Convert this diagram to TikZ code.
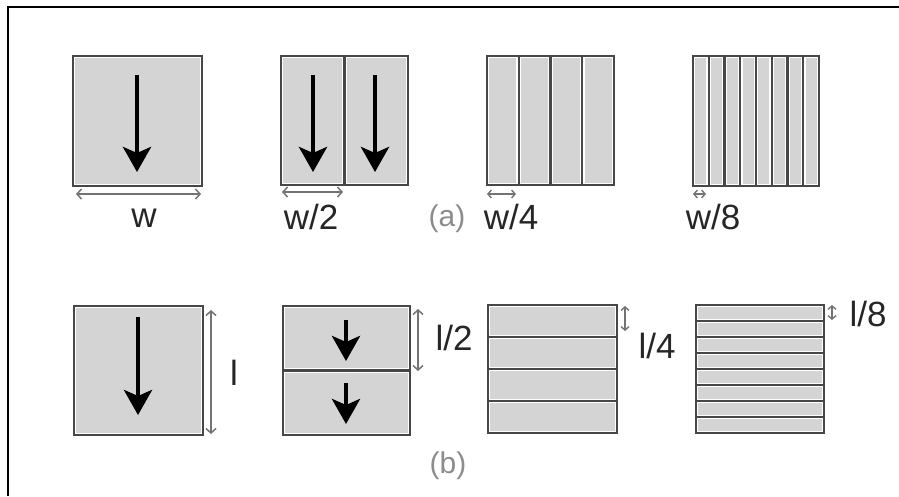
\documentclass[tikz,border=0pt]{standalone}
\usepackage{fontspec}
\setmainfont{Liberation Sans}
\usetikzlibrary{arrows.meta}

\tikzset{
  cellline/.style={draw=black!72, line width=2.2pt},
  cellfill/.style={fill=black!17},
  bigarrow/.style={line width=4.5pt, -{Stealth[length=25pt,width=28pt,inset=6pt]}},
  dimarrow/.style={draw=black!55, line width=1.5pt,
    {Straight Barb[length=4.5pt,width=10pt]}-{Straight Barb[length=4.5pt,width=10pt]}},
  smalldim/.style={draw=black!55, line width=1.4pt,
    {Straight Barb[length=3.5pt,width=8pt]}-{Straight Barb[length=3.5pt,width=8pt]}},
  lbl/.style={font=\fontsize{35}{38}\selectfont, text=black!85, inner sep=0pt},
  tag/.style={font=\fontsize{30}{33}\selectfont, text=black!45, inner sep=0pt},
}

% x y width height count
\newcommand{\vstrips}[5]{%
  \foreach \i in {1,...,#5}{
    \pgfmathsetmacro{\xa}{#1+(\i-1)*#3/#5}
    \pgfmathsetmacro{\xb}{#1+\i*#3/#5}
    \fill[white] (\xa,#2) rectangle (\xb,#2+#4);
    \fill[cellfill] (\xa+2.4,#2+2.4) rectangle (\xb-2.4,#2+#4-2.4);
    \draw[cellline] (\xa,#2) rectangle (\xb,#2+#4);
  }}
\newcommand{\hstrips}[5]{%
  \foreach \i in {1,...,#5}{
    \pgfmathsetmacro{\ya}{#2+(\i-1)*#4/#5}
    \pgfmathsetmacro{\yb}{#2+\i*#4/#5}
    \fill[white] (#1,\ya) rectangle (#1+#3,\yb);
    \fill[cellfill] (#1+2.4,\ya+2.4) rectangle (#1+#3-2.4,\yb-2.4);
    \draw[cellline] (#1,\ya) rectangle (#1+#3,\yb);
  }}

\begin{document}
\begin{tikzpicture}[x=1pt,y=-1pt]
\useasboundingbox (0,0) rectangle (899,496);
\draw[line width=2pt] (8,496) -- (8,7) -- (899,7);

% (a) width split
\vstrips{73}{56}{129}{130}{1}
\vstrips{281}{56}{127}{129}{2}
\vstrips{487}{56}{127}{129}{4}
\vstrips{693}{56}{126}{130}{8}

\coordinate (a1t) at (137,75);   \coordinate (a1b) at (137,172);
\coordinate (a2t) at (313,75);   \coordinate (a2b) at (313,172);
\coordinate (a3t) at (375,75);   \coordinate (a3b) at (375,172);
\draw[bigarrow] (a1t) -- (a1b);
\draw[bigarrow] (a2t) -- (a2b);
\draw[bigarrow] (a3t) -- (a3b);

\coordinate (w1l) at (76,194);  \coordinate (w1r) at (201,194);
\coordinate (w2l) at (282,192); \coordinate (w2r) at (343,192);
\coordinate (w4l) at (487,194); \coordinate (w4r) at (516,194);
\coordinate (w8l) at (693,194); \coordinate (w8r) at (706,194);
\draw[dimarrow] (w1l) -- (w1r);
\draw[dimarrow] (w2l) -- (w2r);
\draw[smalldim] (w4l) -- (w4r);
\draw[smalldim] (w8l) -- (w8r);

\node[lbl] (w) at (144,218) {w};
\node[lbl] (w2) at (311,217) {w/2};
\node[lbl] (w4) at (511,217) {w/4};
\node[lbl] (w8) at (713,217) {w/8};
\node[tag] (a) at (447,219) {(a)};

% (b) length split
\hstrips{74}{306}{129}{129}{1}
\hstrips{283}{306}{127}{129}{2}
\hstrips{488}{305}{129}{128}{4}
\hstrips{696}{305}{128}{128}{8}

\coordinate (b1t) at (138,317);  \coordinate (b1b) at (138,415);
\coordinate (b2t) at (346,320);  \coordinate (b2b) at (346,361);
\coordinate (b3t) at (346,383);  \coordinate (b3b) at (346,424);
\draw[bigarrow] (b1t) -- (b1b);
\draw[bigarrow] (b2t) -- (b2b);
\draw[bigarrow] (b3t) -- (b3b);

\coordinate (l1t) at (211,310); \coordinate (l1b) at (211,434);
\coordinate (l2t) at (418,309); \coordinate (l2b) at (418,371);
\coordinate (l4t) at (625,306); \coordinate (l4b) at (625,331);
\coordinate (l8t) at (832,305); \coordinate (l8b) at (832,320);
\draw[dimarrow] (l1t) -- (l1b);
\draw[dimarrow] (l2t) -- (l2b);
\draw[smalldim] (l4t) -- (l4b);
\draw[smalldim] (l8t) -- (l8b);

\node[lbl] (l) at (234,373) {l};
\node[lbl] (l2) at (454,338) {l/2};
\node[lbl] (l4) at (657,346) {l/4};
\node[lbl] (l8) at (868,314) {l/8};
\node[tag] (b) at (448,466) {(b)};
\end{tikzpicture}
\end{document}
